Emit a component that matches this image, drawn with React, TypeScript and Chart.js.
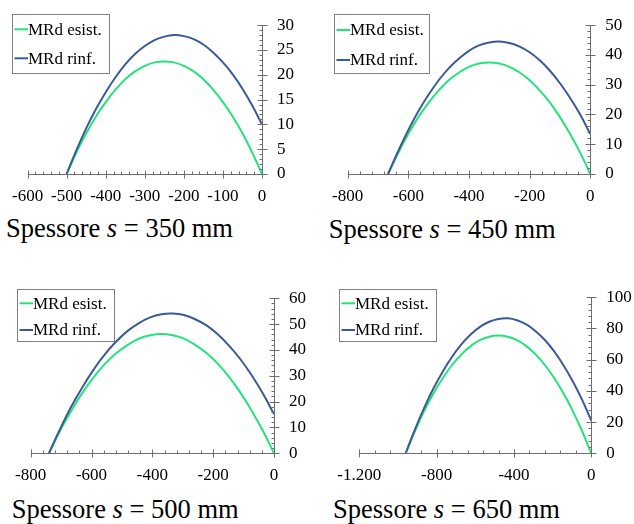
import React, { useEffect, useRef } from "react";
import { Chart, registerables } from "chart.js";

Chart.register(...registerables);

// ---------------- data ----------------
const SERIES_LABELS = ["MRd esist.", "MRd rinf."];
const THICKNESS_MM = ["350", "450", "500", "650"];

const X_350 = [-500, -475, -450, -425, -400, -375, -350, -325, -300, -275, -250, -225, -200, -175, -150, -125, -100, -75, -50, -25, 0];
const ESIST_350 = [0, 4.3, 8.2, 11.6, 14.5, 17.0, 19.1, 20.7, 21.8, 22.5, 22.7, 22.5, 21.8, 20.7, 19.1, 17.0, 14.5, 11.6, 8.2, 4.3, 0];
const RINF_350 = [0, 4.8, 9.2, 13.1, 16.5, 19.5, 22.1, 24.2, 25.8, 27.0, 27.7, 28.0, 27.8, 27.2, 26.1, 24.5, 22.5, 20.1, 17.2, 13.8, 10.0];

const X_450 = [-667, -633, -600, -567, -533, -500, -467, -433, -400, -367, -333, -300, -267, -233, -200, -167, -133, -100, -67, -33, 0];
const ESIST_450 = [0, 7.1, 13.5, 19.1, 24.0, 28.1, 31.5, 34.1, 36.0, 37.1, 37.5, 37.1, 36.0, 34.1, 31.5, 28.1, 24.0, 19.1, 13.5, 7.1, 0];
const RINF_450 = [0, 7.8, 14.8, 21.1, 26.7, 31.5, 35.5, 38.8, 41.4, 43.2, 44.2, 44.5, 44.0, 42.8, 40.9, 38.2, 34.7, 30.5, 25.6, 19.9, 13.4];

const X_500 = [-740, -703, -666, -629, -592, -555, -518, -481, -444, -407, -370, -333, -296, -259, -222, -185, -148, -111, -74, -37, 0];
const ESIST_500 = [0, 8.8, 16.6, 23.6, 29.6, 34.7, 38.8, 42.0, 44.4, 45.7, 46.2, 45.7, 44.4, 42.0, 38.8, 34.7, 29.6, 23.6, 16.6, 8.8, 0];
const RINF_500 = [0, 9.5, 18.2, 25.8, 32.6, 38.5, 43.4, 47.4, 50.4, 52.6, 53.8, 54.1, 53.5, 51.9, 49.5, 46.1, 41.7, 36.5, 30.3, 23.2, 15.2];

const X_650 = [-960, -912, -864, -816, -768, -720, -672, -624, -576, -528, -480, -432, -384, -336, -288, -240, -192, -144, -96, -48, 0];
const ESIST_650 = [0, 14.3, 27.2, 38.5, 48.3, 56.6, 63.4, 68.7, 72.5, 74.7, 75.5, 74.7, 72.5, 68.7, 63.4, 56.6, 48.3, 38.5, 27.2, 14.3, 0];
const RINF_650 = [0, 15.4, 29.3, 41.7, 52.5, 61.9, 69.8, 76.1, 81.0, 84.3, 86.1, 86.5, 85.3, 82.6, 78.3, 72.6, 65.3, 56.5, 46.2, 34.4, 21.0];

const X_VALUES = [X_350, X_450, X_500, X_650];
const ESIST_VALUES = [ESIST_350, ESIST_450, ESIST_500, ESIST_650];
const RINF_VALUES = [RINF_350, RINF_450, RINF_500, RINF_650];

const X_MIN = [-600, -800, -800, -1200];
const X_MAX = [0, 0, 0, 0];
const X_STEP = [100, 200, 200, 400];
const X_MINOR = [20, 40, 40, 80];
const Y_MIN = [0, 0, 0, 0];
const Y_MAX = [30, 50, 60, 100];
const Y_STEP = [5, 10, 10, 20];
const Y_MINOR = [1, 2, 2, 4];

// ---------------- styles / layout ----------------
const GREEN = "#25E37B";
const BLUE = "#3B5A98";
const AXIS_COLOR = "#6e6e6e";
const FONT_FAMILY = "'Liberation Serif', 'Times New Roman', serif";
const TICK_FONT_SIZE = 17;

type Layout = {
  left: number; top: number; w: number; h: number;
  area: { l: number; r: number; t: number; b: number };
  legend: { x: number; y: number; w: number; h: number; rows: number[] };
  caption: { x: number; y: number };
};

const LAYOUTS: Layout[] = [
  { left: 0, top: 0, w: 317, h: 210, area: { l: 25, r: 262, t: 22, b: 174 },
    legend: { x: 11.5, y: 14, w: 97, h: 59, rows: [15.3, 44.3] }, caption: { x: 6, y: 215 } },
  { left: 317, top: 0, w: 317, h: 210, area: { l: 30.7, r: 273.3, t: 22.3, b: 174 },
    legend: { x: 16.5, y: 14, w: 95, h: 59, rows: [16, 46] }, caption: { x: 328.7, y: 216 } },
  { left: 0, top: 270, w: 317, h: 215, area: { l: 30.7, r: 274, t: 28.3, b: 183.3 },
    legend: { x: 16.5, y: 19.3, w: 97, h: 52, rows: [14, 40.7] }, caption: { x: 11.7, y: 496 } },
  { left: 317, top: 270, w: 317, h: 215, area: { l: 42.3, r: 274.3, t: 27.3, b: 183.3 },
    legend: { x: 21.5, y: 19.3, w: 97, h: 52, rows: [14, 40.7] }, caption: { x: 333, y: 496 } },
];

function fmtThousands(v: number): string {
  const sign = v < 0 ? "-" : "";
  const s = String(Math.abs(Math.round(v)));
  return sign + s.replace(/\B(?=(\d{3})+(?!\d))/g, ".");
}

function makeAxisPlugin(i: number) {
  return {
    id: "axisTicks" + i,
    afterDatasetsDraw(chart: any) {
      const ctx = chart.ctx;
      const xs = chart.scales.x;
      const ys = chart.scales.y;
      const area = chart.chartArea;
      const yb = Math.round(area.bottom) + 0.5;
      const xr = Math.round(area.right) + 0.5;
      ctx.save();
      ctx.strokeStyle = AXIS_COLOR;
      ctx.lineWidth = 1;
      ctx.beginPath();
      ctx.moveTo(Math.round(area.left), yb);
      ctx.lineTo(xr, yb);
      ctx.moveTo(xr, Math.round(area.top));
      ctx.lineTo(xr, yb);
      const xMajor = X_STEP[i], xMinor = X_MINOR[i];
      for (let k = 0; ; k++) {
        const v = X_MIN[i] + k * xMinor;
        if (v > X_MAX[i] + 1e-6) break;
        const px = Math.round(xs.getPixelForValue(v)) + 0.5;
        const major = Math.abs(v / xMajor - Math.round(v / xMajor)) < 1e-6;
        ctx.moveTo(px, yb - (major ? 4 : 3));
        ctx.lineTo(px, yb + (major ? 4 : 0));
      }
      const yMajor = Y_STEP[i], yMinor = Y_MINOR[i];
      for (let k = 0; ; k++) {
        const v = Y_MIN[i] + k * yMinor;
        if (v > Y_MAX[i] + 1e-6) break;
        const py = Math.round(ys.getPixelForValue(v)) + 0.5;
        const major = Math.abs(v / yMajor - Math.round(v / yMajor)) < 1e-6;
        ctx.moveTo(xr - (major ? 5 : 3), py);
        ctx.lineTo(xr + (major ? 5 : 0), py);
      }
      ctx.stroke();
      ctx.restore();
    },
  };
}

function makeLegendPlugin(i: number) {
  const lg = LAYOUTS[i].legend;
  return {
    id: "boxLegend" + i,
    afterDraw(chart: any) {
      const ctx = chart.ctx;
      ctx.save();
      ctx.fillStyle = "#ffffff";
      ctx.fillRect(lg.x, lg.y, lg.w, lg.h);
      ctx.strokeStyle = "#808080";
      ctx.lineWidth = 1;
      ctx.strokeRect(Math.round(lg.x) + 0.5, Math.round(lg.y) + 0.5, Math.round(lg.w), Math.round(lg.h));
      const colors = [GREEN, BLUE];
      SERIES_LABELS.forEach((label, k) => {
        const cy = lg.y + lg.rows[k];
        ctx.strokeStyle = colors[k];
        ctx.lineWidth = 2;
        ctx.beginPath();
        ctx.moveTo(lg.x + 3, cy);
        ctx.lineTo(lg.x + 16.5, cy);
        ctx.stroke();
        ctx.fillStyle = "#000000";
        ctx.font = `${TICK_FONT_SIZE}px ${FONT_FAMILY}`;
        ctx.textBaseline = "middle";
        ctx.textAlign = "left";
        ctx.fillText(label, lg.x + 16.5, cy + 1);
      });
      ctx.restore();
    },
  };
}

function Panel({ i }: { i: number }) {
  const ref = useRef<HTMLCanvasElement | null>(null);
  const L = LAYOUTS[i];
  useEffect(() => {
    if (!ref.current) return;
    const xs = X_VALUES[i];
    const esist = xs.map((x, k) => ({ x, y: ESIST_VALUES[i][k] }));
    const rinf = xs.map((x, k) => ({ x, y: RINF_VALUES[i][k] }));
    const chart = new Chart(ref.current, {
      type: "line",
      data: {
        datasets: [
          { label: SERIES_LABELS[0], data: esist, borderColor: GREEN, backgroundColor: GREEN, borderWidth: 2, pointRadius: 0, tension: 0.4, fill: false, order: 1 },
          { label: SERIES_LABELS[1], data: rinf, borderColor: BLUE, backgroundColor: BLUE, borderWidth: 2, pointRadius: 0, tension: 0.4, fill: false, order: 0 },
        ],
      },
      options: {
        responsive: false,
        animation: false,
        devicePixelRatio: 1,
        layout: { padding: { left: L.area.l, top: L.area.t, right: 0, bottom: 0 } },
        plugins: { legend: { display: false }, tooltip: { enabled: false }, title: { display: false } },
        scales: {
          x: {
            type: "linear",
            position: "bottom",
            min: X_MIN[i],
            max: X_MAX[i],
            grid: { display: true, drawOnChartArea: false, drawTicks: false },
            border: { display: false },
            ticks: {
              stepSize: X_STEP[i],
              padding: 12,
              color: "#000",
              maxRotation: 0,
              autoSkip: false,
              font: { family: FONT_FAMILY, size: TICK_FONT_SIZE },
              callback: (v: any) => fmtThousands(Number(v)),
            },
            afterFit: (s: any) => { s.height = L.h - L.area.b; },
          },
          y: {
            type: "linear",
            position: "right",
            min: Y_MIN[i],
            max: Y_MAX[i],
            grid: { display: true, drawOnChartArea: false, drawTicks: false },
            border: { display: false },
            ticks: {
              stepSize: Y_STEP[i],
              padding: 15,
              color: "#000",
              autoSkip: false,
              font: { family: FONT_FAMILY, size: TICK_FONT_SIZE },
              callback: (v: any) => fmtThousands(Number(v)),
            },
            afterFit: (s: any) => { s.width = L.w - L.area.r; },
          },
        },
      } as any,
      plugins: [makeAxisPlugin(i), makeLegendPlugin(i)],
    });
    return () => chart.destroy();
  }, [i]);

  return (
    <>
      <canvas
        ref={ref}
        width={L.w}
        height={L.h}
        style={{ position: "absolute", left: L.left, top: L.top, width: L.w, height: L.h }}
      />
      <div
        style={{
          position: "absolute",
          left: L.caption.x,
          top: L.caption.y,
          fontFamily: FONT_FAMILY,
          fontSize: 26.5,
          lineHeight: "26px",
          color: "#000",
          whiteSpace: "nowrap",
        }}
      >
        Spessore <i>s</i> = {THICKNESS_MM[i]} mm
      </div>
    </>
  );
}

export default function App() {
  return (
    <div style={{ position: "fixed", left: 0, top: 0, width: 634, height: 524, background: "#fff", overflow: "hidden" }}>
      {[0, 1, 2, 3].map((i) => (
        <Panel key={i} i={i} />
      ))}
    </div>
  );
}
